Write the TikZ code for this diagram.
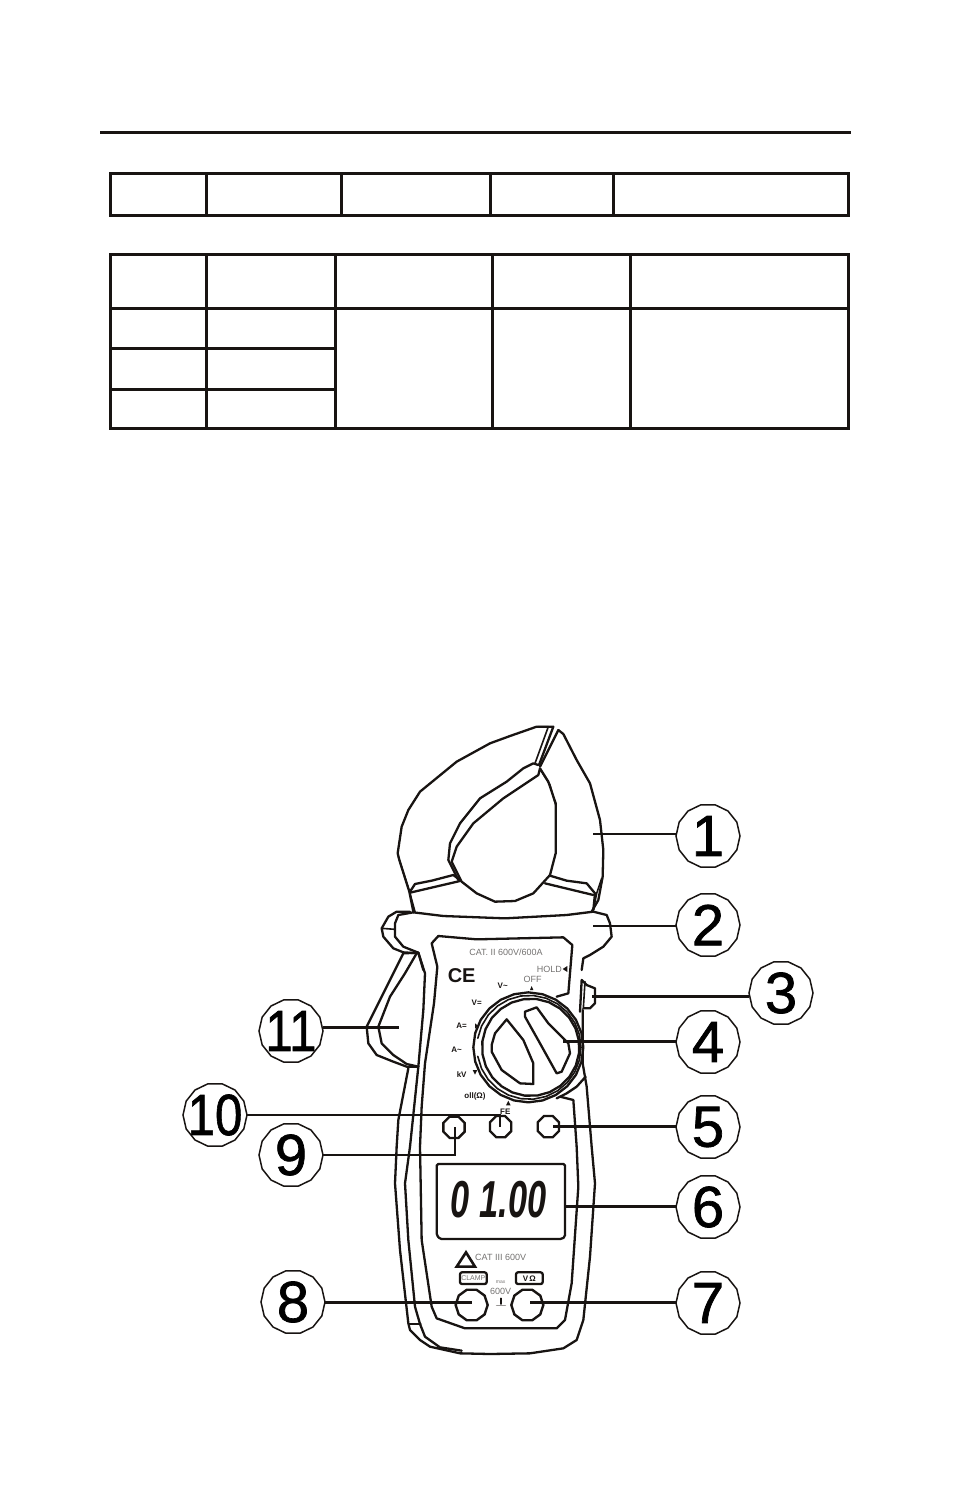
\documentclass[tikz,border=0pt]{standalone}
\usepackage{fontspec}
\setmainfont{Liberation Sans}
\newfontfamily\numfont[FakeBold=1.2]{Liberation Sans}
\usetikzlibrary{shapes.geometric}
\definecolor{ink}{RGB}{24,20,18}
\tikzset{
  rulel/.style={draw=ink,line width=3pt},
  body/.style={draw=ink,line width=2.3pt,line join=round,line cap=round},
  thin body/.style={draw=ink,line width=1.6pt,line join=round,line cap=round},
  lead/.style={draw=ink,line width=2.4pt},
  num/.style={regular polygon,regular polygon sides=14,draw=ink,line width=1.5pt,minimum size=64pt,inner sep=0pt,outer sep=0pt},
  small/.style={text=ink,inner sep=0pt,font=\bfseries\fontsize{8}{9}\selectfont},
  faint/.style={text=ink!60,inner sep=0pt,font=\fontsize{9}{10}\selectfont},
  btn/.style={regular polygon,regular polygon sides=8,draw=ink,line width=2.3pt,minimum size=23pt,inner sep=0pt},
  jack/.style={regular polygon,regular polygon sides=10,draw=ink,line width=2.4pt,minimum size=32pt,inner sep=0pt},
}
\newcommand{\bigdig}[1]{\fontsize{58}{60}\selectfont\numfont #1}
\newcommand{\twodig}[1]{\scalebox{0.85}[1]{\fontsize{58}{60}\selectfont\numfont #1}}
\begin{document}
\begin{tikzpicture}[x=1pt,y=-1pt]
\useasboundingbox (0,0) rectangle (954,1486);
% top rule and tables
\draw[rulel] (100,132) -- (851,132);
\draw[rulel] (110,173) rectangle (848.5,215);
\foreach \xx in {206,341,490,613} \draw[rulel] (\xx,173) -- (\xx,215);
\draw[rulel] (110,254) rectangle (848.5,428);
\draw[rulel] (110,308) -- (848.5,308);
\draw[rulel] (110,348) -- (335,348);
\draw[rulel] (110,389) -- (335,389);
\foreach \xx in {206,335,492,630} \draw[rulel] (\xx,254) -- (\xx,428);
% jaws and collar
\begin{scope}[shift={(360,710)},scale=0.33333]
\draw[body] (160,605)--(148,545)--(118,450)--(113,430)--(125,350)--(145,300)--(180,245)--(235,200)--(290,155)--(390,100)--(450,78)--(530,50)--(580,50)--(537,165);
\draw[thin body] (533,50)--(565,50)--(525,160);
\draw[thin body] (115,440)--(150,550)--(165,605);
\draw[body] (595,60)--(540,170);
\draw[body] (595,60)--(610,72)--(650,150)--(690,220)--(720,330)--(730,420)--(728,500)--(715,570)--(695,605);
\draw[thin body] (725,505)--(710,550)--(700,600);
\draw[body] (535,165)--(520,160)--(490,175)--(440,215)--(360,265)--(300,340)--(270,400)--(265,450)--(295,510);
\draw[body] (535,195)--(430,265)--(340,340)--(290,410)--(275,455)--(305,515)--(350,550)--(405,575)--(465,573)--(520,550)--(570,495)--(587,430)--(587,280)--(565,215)--(540,175)--(535,195);
\draw[thin body] (545,185)--(570,225)--(587,285);
\draw[body] (150,545)--(165,522)--(215,512)--(280,495)--(300,510);
\draw[body] (150,548)--(300,513);
\draw[body] (570,497)--(620,512)--(680,520)--(705,550)--(700,600);
\draw[body] (555,520)--(700,555);
\draw[body] (160,607)--(250,618)--(435,625)--(620,615)--(700,605)--(740,615)--(750,640)--(755,680)--(730,710)--(690,735)--(670,745)--(665,780);
\draw[body] (160,607)--(115,615)--(105,640)--(105,680)--(130,710)--(175,728)--(190,780);
\draw[body] (150,605)--(110,605)--(85,620)--(65,655)--(70,680)--(100,715)--(130,727)--(175,730);
\draw[thin body] (65,655)--(105,658);
\coordinate (t1) at (700,372);
\coordinate (t2) at (700,648);
\end{scope}
% middle: panel, trigger, dial
\begin{scope}[shift={(360,930)},scale=0.33333]
\draw[body] (180,650)--(185,530)--(195,400)--(222,220)--(232,110)--(215,40)--(235,18)--(350,28)--(610,22)--(637,45)--(625,190)--(590,200);
\draw[body] (175,68)--(195,130)--(190,240)--(175,410)--(150,650);
\draw[body] (145,415)--(115,570)--(110,650);
\draw[body] (130,70)--(90,150)--(50,230)--(20,290)--(25,340)--(50,375)--(100,395)--(140,410)--(175,410);
\draw[body] (170,70)--(135,130)--(90,200)--(55,290)--(65,340)--(100,375)--(140,402)--(175,410);
\draw[body] (130,70)--(175,68);
\draw[body] (660,245)--(665,150)--(680,165)--(705,175)--(705,220)--(690,235)--(670,235);
\draw[thin body] (675,155)--(670,235);
\draw[body] (668,240)--(668,400)--(680,470)--(695,650);
\draw[body] (677,440)--(650,470)--(620,490)--(590,505);
\draw[body] (600,500)--(640,510)--(650,650);
% dial rings
\draw[body,fill=white] plot[samples=25,domain=0:360] ({505+165*cos(\x)},{352+165*sin(\x)}) -- cycle;
\draw[thin body] plot[samples=25,domain=10:350] ({507+156*cos(\x+180)},{352+156*sin(\x+180)});
\draw[body] plot[samples=25,domain=0:360] ({512+146*cos(\x+7)},{352+146*sin(\x+7)}) -- cycle;
\draw[body] (495,245)--(530,232)--(565,280)--(625,340)--(630,370)--(605,425)--(590,430)--(540,340)--(495,260)--cycle;
\draw[body] (440,268)--(490,330)--(520,400)--(520,462)--(480,460)--(425,420)--(395,365)--(395,345)--(405,310)--cycle;
% panel text
\node[faint] (cat) at (438,66) {CAT. II 600V/600A};
\node[faint,anchor=west] (hold) at (530,117) {HOLD};
\fill[ink] (622,108)--(622,126)--(608,117)--cycle;
\node[font=\bfseries\fontsize{20}{21}\selectfont,text=ink,inner sep=0pt] (ce) at (305,136) {CE};
\node[faint] (off) at (518,149) {OFF};
\node[small] (vac) at (428,168) {V\textasciitilde};
\node[small] (vdc) at (350,218) {V=};
\node[small] (adc) at (305,288) {A=};
\node[small] (aac) at (290,360) {A\textasciitilde};
\node[small] (kv) at (305,435) {kV};
\node[small] (cont) at (345,500) {oll(Ω)};
\node[small] (fe) at (436,546) {FE};
\fill[ink] (515,168)--(510,180)--(520,180)--cycle;
\fill[ink] (345,280)--(345,296)--(355,288)--cycle;
\fill[ink] (338,420)--(352,420)--(345,434)--cycle;
\fill[ink] (445,512)--(438,526)--(452,526)--cycle;
% buttons
\node[btn] (b9) at (282,592) {};
\node[btn] (b10) at (422,590) {};
\node[btn] (b5) at (565,590) {};
\coordinate (t3) at (695,200);
\coordinate (t4) at (610,335);
\coordinate (t5) at (578,590);
\coordinate (t9a) at (285,590);
\coordinate (t10a) at (420,590);
\coordinate (t11) at (118,292);
\end{scope}
% lower body
\begin{scope}[shift={(390,1140)},scale=0.33333]
\draw[body] (20,20)--(15,130)--(30,330)--(55,550)--(60,570)--(90,600)--(120,620)--(210,640)--(300,642)--(420,640)--(520,625)--(560,600)--(580,540)--(600,350)--(615,130)--(605,20);
\draw[body] (60,20)--(45,130)--(55,300)--(75,500)--(90,552)--(105,590)--(150,622)--(215,632);
\draw[body] (58,553)--(92,553);
\draw[body] (90,20)--(92,130)--(95,300)--(125,500)--(140,535)--(225,565)--(500,565)--(525,540)--(545,430)--(565,140)--(560,20);
\draw[body,rounded corners=1.5pt] (140,72)--(525,72)--(525,290)--(515,297)--(150,297)--(140,285)--cycle;
\node[text=ink,inner sep=0pt] (lcd) at (326,180) {\scalebox{0.66}[1]{\fontsize{52}{54}\selectfont\bfseries\itshape 0 1.00}};
\draw[draw=ink,line width=2.6pt,line join=miter] (200,380)--(228,337)--(255,380)--cycle;
\node[faint,anchor=west] (cat3) at (255,353) {CAT III 600V};
\draw[body,rounded corners=2pt] (210,397) rectangle (290,432);
\draw[body,rounded corners=2pt] (378,397) rectangle (458,432);
\node[faint,font=\fontsize{7}{8}\selectfont] (lb1) at (250,415) {CLAMP};
\node[small] (lb2) at (418,415) {V\,Ω};
\node[faint,font=\fontsize{5}{6}\selectfont] (lb3) at (332,425) {max};
\node[faint] (v600) at (332,455) {600V};
\node[jack] (j8) at (245,495) {};
\node[jack] (j7) at (412,495) {};
\draw[thin body] (333,475)--(333,492);
\draw[thin body,ink!45] (320,497)--(346,497);
\coordinate (t6) at (528,200);
\coordinate (t7) at (420,487);
\coordinate (t8) at (245,487);
\end{scope}
% numbered callouts
\node[num,label={center:\bigdig{1}}] (c1) at (708,836) {};
\node[num,label={center:\bigdig{2}}] (c2) at (708,925) {};
\node[num,label={center:\bigdig{3}}] (c3) at (781,993) {};
\node[num,label={center:\bigdig{4}}] (c4) at (708,1042) {};
\node[num,label={center:\bigdig{5}}] (c5) at (708,1127) {};
\node[num,label={center:\bigdig{6}}] (c6) at (708,1207) {};
\node[num,label={center:\bigdig{7}}] (c7) at (708,1303) {};
\node[num,label={center:\bigdig{8}}] (c8) at (293,1302) {};
\node[num,label={center:\bigdig{9}}] (c9) at (291,1155) {};
\node[num,label={center:\twodig{10}}] (c10) at (215,1115) {};
\node[num,label={center:\twodig{11}}] (c11) at (291,1031) {};
% connectors
\draw[lead] (c1.west |- t1) -- (t1);
\draw[lead] (c2.west |- t2) -- (t2);
\draw[lead] (c3.west |- t3) -- (t3);
\draw[lead] (c4.west |- t4) -- (t4);
\draw[lead] (c5.west |- t5) -- (t5);
\draw[lead] (c6.west |- t6) -- (t6);
\draw[lead] (c7.west |- t7) -- (t7);
\draw[lead] (c8.east |- t8) -- (t8);
\draw[lead] (c9.east) -- (c9.east -| t9a) -- (t9a);
\draw[lead] (c10.east) -- (c10.east -| t10a) -- (t10a);
\draw[lead] (c11.east |- t11) -- (t11);
\end{tikzpicture}
\end{document}
